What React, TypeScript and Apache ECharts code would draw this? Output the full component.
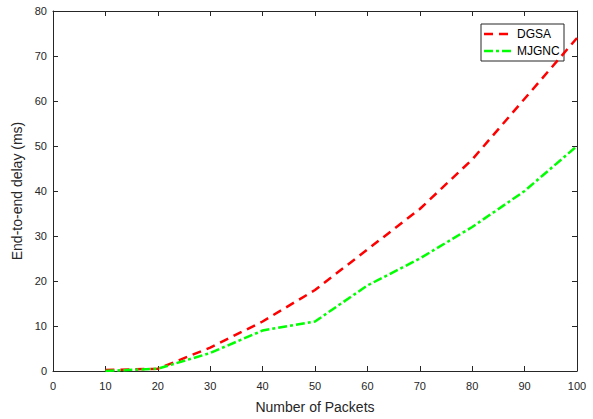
import React, { useEffect, useRef } from "react";
import * as echarts from "echarts";

const packets = [10, 20, 30, 40, 50, 60, 70, 80, 90, 100];
const dgsa = [0.2, 0.5, 5.2, 11, 18, 27, 36, 47, 60.5, 74];
const mjgnc = [0, 0.5, 4, 9, 11, 19, 25, 32, 40, 50];
const seriesNames = ["DGSA", "MJGNC"];
const seriesColors = ["#ff0000", "#00ff00"];
const seriesDash = [
  [9, 6],
  [9, 3, 3, 3],
];
const xTitle = "Number of Packets";
const yTitle = "End-to-end delay (ms)";

const FONT = "'Liberation Sans', Arial, Helvetica, sans-serif";
const INK = "#262626";

export default function App() {
  const ref = useRef<HTMLDivElement>(null);
  useEffect(() => {
    if (!ref.current) return;
    const chart = echarts.init(ref.current, undefined, { renderer: "svg" });
    const axisCommon = {
      axisLine: { show: true, onZero: false, lineStyle: { color: INK, width: 1 } },
      axisTick: { show: true, inside: true, length: 5, lineStyle: { color: INK } },
      splitLine: { show: false },
    };
    const legendBox = { x: 481, y: 24, w: 83, h: 37 };
    const legendChildren: any[] = [
      {
        type: "rect",
        shape: { x: legendBox.x, y: legendBox.y, width: legendBox.w, height: legendBox.h },
        style: { fill: "#ffffff", stroke: INK, lineWidth: 1 },
      },
    ];
    seriesNames.forEach((name, i) => {
      const cy = legendBox.y + 10 + i * 17;
      legendChildren.push({
        type: "line",
        shape: { x1: legendBox.x + 3, y1: cy, x2: legendBox.x + 33, y2: cy },
        style: { stroke: seriesColors[i], lineWidth: 2.5, lineDash: seriesDash[i] },
      });
      legendChildren.push({
        type: "text",
        x: legendBox.x + 36,
        y: cy,
        style: {
          text: name,
          fill: "#000000",
          font: `12px ${FONT}`,
          verticalAlign: "middle",
          align: "left",
        },
      });
    });
    chart.setOption({
      animation: false,
      backgroundColor: "#ffffff",
      textStyle: { fontFamily: FONT },
      grid: { left: 53, right: 16, top: 11, bottom: 47, containLabel: false },
      xAxis: [
        {
          type: "value",
          min: 0,
          max: 100,
          interval: 10,
          position: "bottom",
          name: xTitle,
          nameLocation: "middle",
          nameGap: 29,
          nameTextStyle: { fontFamily: FONT, fontSize: 14, color: INK },
          axisLabel: { fontFamily: FONT, fontSize: 11, color: INK, margin: 9 },
          ...axisCommon,
        },
        {
          type: "value",
          min: 0,
          max: 100,
          interval: 10,
          position: "top",
          axisLabel: { show: false },
          ...axisCommon,
        },
      ],
      yAxis: [
        {
          type: "value",
          min: 0,
          max: 80,
          interval: 10,
          position: "left",
          name: yTitle,
          nameLocation: "middle",
          nameGap: 23,
          nameTextStyle: { fontFamily: FONT, fontSize: 14, color: INK },
          axisLabel: { fontFamily: FONT, fontSize: 11, color: INK, margin: 6 },
          ...axisCommon,
        },
        {
          type: "value",
          min: 0,
          max: 80,
          interval: 10,
          position: "right",
          axisLabel: { show: false },
          ...axisCommon,
        },
      ],
      series: [
        {
          name: seriesNames[0],
          type: "line",
          data: packets.map((p, i) => [p, dgsa[i]]),
          symbol: "none",
          lineStyle: { color: seriesColors[0], width: 2.5, type: seriesDash[0] },
          itemStyle: { color: seriesColors[0] },
          z: 2,
        },
        {
          name: seriesNames[1],
          type: "line",
          data: packets.map((p, i) => [p, mjgnc[i]]),
          symbol: "none",
          lineStyle: { color: seriesColors[1], width: 2.5, type: seriesDash[1] },
          itemStyle: { color: seriesColors[1] },
          z: 3,
        },
      ],
      graphic: [{ type: "group", z: 100, children: legendChildren }],
    });
    return () => chart.dispose();
  }, []);
  return <div ref={ref} style={{ width: 593, height: 419, position: "absolute", left: 0, top: 0 }} />;
}
